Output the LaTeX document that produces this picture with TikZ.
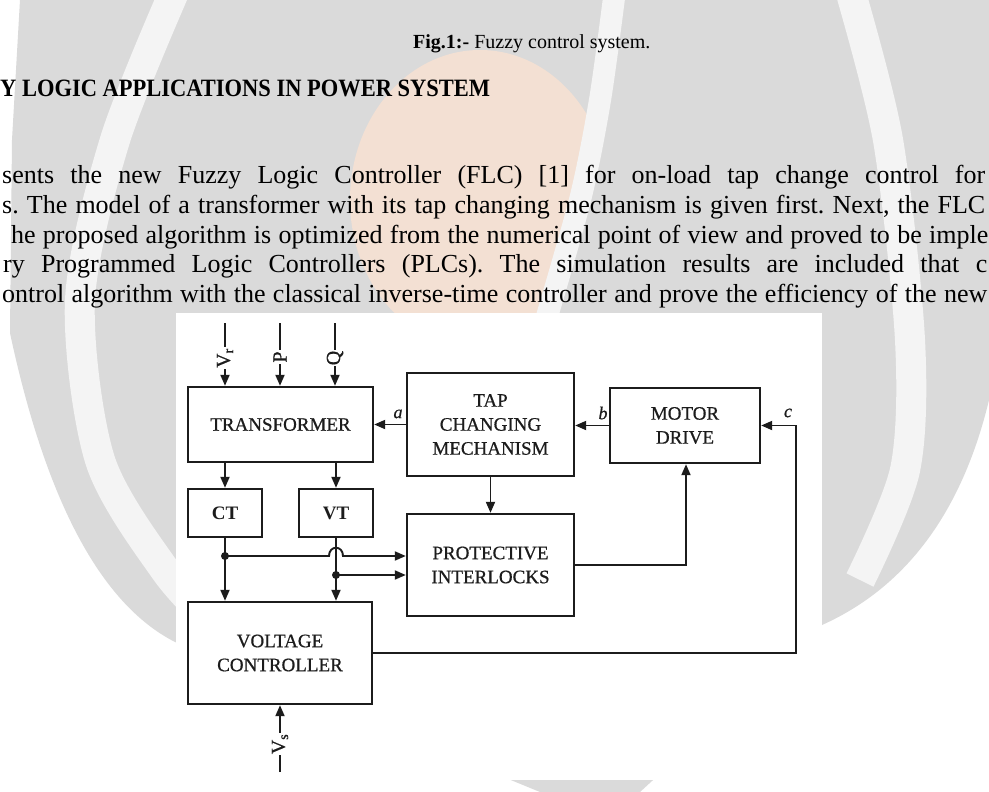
\documentclass[tikz,border=0pt]{standalone}
\usepackage{fontspec}
\usepackage{graphicx}
\setmainfont{Liberation Serif}
\newfontfamily\scanfont[FakeBold=0.7]{Liberation Serif}
\usetikzlibrary{arrows.meta}
\definecolor{ink}{RGB}{28,28,28}
\definecolor{wm}{RGB}{218,218,218}
\definecolor{wmband}{RGB}{244,244,244}
\definecolor{peach}{RGB}{243,224,211}
\begin{document}
\frenchspacing
\begin{tikzpicture}[x=1pt,y=-1pt,
  blk/.style={draw=ink,line width=2.4pt,fill=white,inner sep=0pt,align=center,text=ink,font=\scanfont\fontsize{19}{24}\selectfont},
  ln/.style={draw=ink,line width=1.9pt},
  arr/.style={ln,-{Triangle[length=11pt,width=9pt]}},
  jdot/.style={circle,fill=ink,inner sep=0pt,minimum size=8pt},
  edgelbl/.style={inner sep=0pt,text=ink,font=\scanfont\fontsize{18}{18}\selectfont\itshape},
  inlbl/.style={fill=white,rotate=90,inner sep=1pt,text=ink,font=\scanfont\fontsize{20}{20}\selectfont},
  para/.style={anchor=base west,inner sep=0pt,font=\fontsize{26}{30}\selectfont}
]
\useasboundingbox (0,0) rectangle (989,792);
\clip (0,0) rectangle (989,792);
% ---------- watermark background ----------
\fill[white] (0,0) rectangle (989,792);
\fill[wm] (20,0) -- (989,0) -- (989,400)
  .. controls (960,520) and (900,590) .. (822,625) -- (640,792) -- (540,792) -- (177,643)
  .. controls (110,610) and (50,520) .. (10,333) -- (12,140) -- cycle;
\begin{scope}
  \clip (300,0) -- (610,0) -- (590,120) -- (543,330) -- (300,330) -- cycle;
  \fill[peach] (480,200) ellipse [x radius=130, y radius=150];
\end{scope}
\draw[wmband,line width=30pt] plot[smooth] coordinates {(175,-10) (115,140) (80,300) (100,460) (165,570) (215,625)};
\draw[wmband,line width=30pt] plot[smooth] coordinates {(850,-10) (888,140) (910,340) (905,470) (860,580)};
\draw[wmband,line width=22pt] plot[smooth] coordinates {(615,-10) (600,100) (580,200) (543,330)};
% ---------- page text ----------
\node[anchor=base west,inner sep=0pt,font=\fontsize{20}{24}\selectfont] (cap) at (413,49) {\textbf{Fig.1:-} Fuzzy control system.};
\node[anchor=base west,inner sep=0pt] (head) at (0,97) {\resizebox{490pt}{16.5pt}{\bfseries Y LOGIC APPLICATIONS IN POWER SYSTEM}};
\node[para] (p1) at (2,183) {\makebox[983pt][s]{sents the new Fuzzy Logic Controller (FLC) [1] for on-load tap change control for}};
\node[para] (p2) at (2,213) {\makebox[983pt][s]{s. The model of a transformer with its tap changing mechanism is given first. Next, the FLC}};
\node[para] (p3) at (11,243) {\makebox[977pt][s]{he proposed algorithm is optimized from the numerical point of view and proved to be imple}};
\node[para] (p4) at (3,272) {\makebox[984pt][s]{ry Programmed Logic Controllers (PLCs). The simulation results are included that c}};
\node[para] (p5) at (2,302) {\makebox[985pt][s]{ontrol algorithm with the classical inverse-time controller and prove the efficiency of the new}};
% ---------- diagram ----------
\fill[white] (176,313) rectangle (822,780);
\node[blk,minimum width=185pt,minimum height=75pt] (tr) at (280.5,424.5) {TRANSFORMER};
\node[blk,minimum width=167pt,minimum height=103pt] (tap) at (490.5,424.5) {TAP\\CHANGING\\MECHANISM};
\node[blk,minimum width=150pt,minimum height=75pt] (mot) at (685,425.5) {MOTOR\\DRIVE};
\node[blk,minimum width=74pt,minimum height=48pt,font=\fontsize{19}{24}\selectfont\bfseries] (ct) at (225,513) {CT};
\node[blk,minimum width=74pt,minimum height=48pt,font=\fontsize{19}{24}\selectfont\bfseries] (vt) at (336,513) {VT};
\node[blk,minimum width=167pt,minimum height=102pt] (prot) at (490.5,565) {PROTECTIVE\\INTERLOCKS};
\node[blk,minimum width=184pt,minimum height=102pt] (vc) at (280,653) {VOLTAGE\\CONTROLLER};
% inputs
\coordinate (vrtop) at (225,323);
\coordinate (ptop) at (280,323);
\coordinate (qtop) at (335,323);
\draw[arr] (vrtop) -- (vrtop |- tr.north);
\draw[arr] (ptop) -- (ptop |- tr.north);
\draw[arr] (qtop) -- (qtop |- tr.north);
\node[inlbl] (vrl) at (225,358) {V\textsubscript{r}};
\node[inlbl] (pl) at (280,357) {P};
\node[inlbl] (ql) at (335,358) {Q};
% a, b, c
\draw[arr] (tap.west) -- (tap.west -| tr.east);
\node[edgelbl] (la) at (398,414) {a};
\draw[arr] (mot.west) -- (mot.west -| tap.east);
\node[edgelbl] (lb) at (603,413) {b};
\coordinate (cbot) at (796,653);
\coordinate (ctop) at (796,425.5);
\draw[arr] (vc.east) -- (cbot) -- (ctop) -- (mot.east);
\node[edgelbl] (lc) at (788,413) {c};
% tap -> protective, protective -> motor
\draw[arr] (tap.south) -- (prot.north);
\coordinate (pm) at (686,565);
\draw[arr] (prot.east) -- (pm) -- (pm |- mot.south);
% transformer -> CT, VT
\draw[arr] (tr.south -| ct) -- (ct.north);
\draw[arr] (tr.south -| vt) -- (vt.north);
% CT, VT -> voltage controller
\draw[arr] (ct.south) -- (ct.south |- vc.north);
\draw[arr] (vt.south) -- (vt.south |- vc.north);
\node[jdot] (d1) at (225,556) {};
\node[jdot] (d2) at (336,575) {};
\coordinate (h1) at (329,556);
\coordinate (h2) at (343,556);
\draw[arr] (d1.center) -- (h1) .. controls (329,545) and (343,545) .. (h2) -- (d1 -| prot.west);
\draw[arr] (d2.center) -- (d2 -| prot.west);
% Vs
\coordinate (vsb) at (280,772);
\draw[arr] (vsb) -- (vsb |- vc.south);
\node[inlbl] (vsl) at (280,744) {V\textsubscript{s}};
\end{tikzpicture}
\end{document}
